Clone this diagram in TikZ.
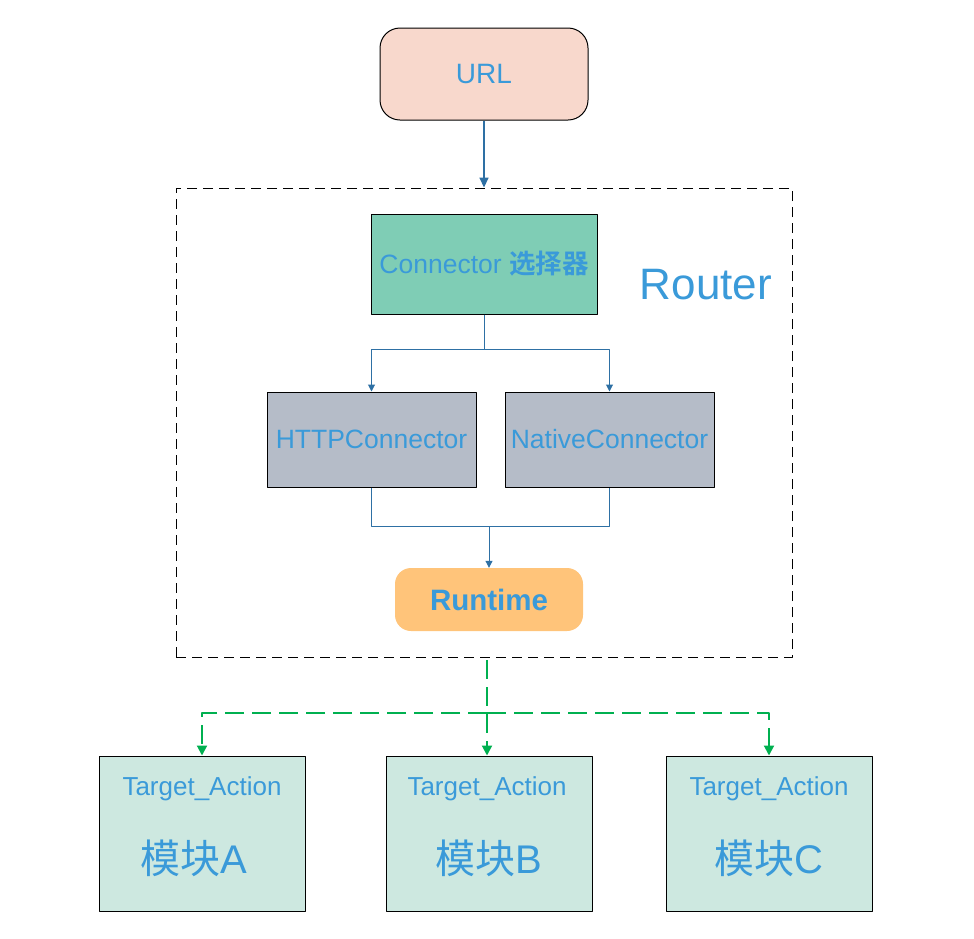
\documentclass[tikz,border=0pt]{standalone}
\usepackage{fontspec}
\setmainfont{Liberation Sans}
\newfontfamily\cjk{Noto Sans CJK SC}
\newfontfamily\cjkbold{Noto Sans CJK SC Bold}
\usetikzlibrary{arrows.meta}
\definecolor{txtblue}{RGB}{58,154,217}
\definecolor{linkblue}{RGB}{46,112,164}
\definecolor{urlfill}{RGB}{248,216,204}
\definecolor{selfill}{RGB}{127,205,181}
\definecolor{connfill}{RGB}{181,188,200}
\definecolor{runfill}{RGB}{255,196,122}
\definecolor{modfill}{RGB}{205,232,224}
\definecolor{modgreen}{RGB}{0,176,80}
\tikzset{
  box/.style={draw=black, line width=1pt, inner sep=0pt, text=txtblue},
  urlbox/.style={box, fill=urlfill, rounded corners=20pt, minimum width=208pt, minimum height=92pt, font=\fontsize{28}{32}\selectfont},
  selbox/.style={box, fill=selfill, minimum width=226pt, minimum height=100pt, font=\fontsize{26.5}{30}\selectfont},
  connbox/.style={box, fill=connfill, minimum width=209pt, minimum height=95pt, font=\fontsize{26.5}{30}\selectfont},
  runbox/.style={inner sep=0pt, fill=runfill, rounded corners=16pt, minimum width=188pt, minimum height=63pt, text=txtblue, font=\fontsize{29.5}{34}\selectfont\bfseries},
  modbox/.style={box, fill=modfill, minimum width=206pt, minimum height=155pt},
  modtext/.style={text=txtblue, font=\fontsize{26}{30}\selectfont},
  modname/.style={text=txtblue, font=\fontsize{40}{44}\selectfont},
  frame/.style={draw=black, line width=0.9pt, dash pattern=on 10pt off 6pt, minimum width=616pt, minimum height=469pt, inner sep=0pt},
  link/.style={draw=linkblue, line width=1pt},
  linktip/.style={link, -{Triangle[length=7pt,width=7pt]}},
  urllink/.style={draw=linkblue, line width=1.6pt, -{Triangle[length=10pt,width=9pt]}},
  greenlink/.style={draw=modgreen, line width=2pt, dash pattern=on 19pt off 8pt},
  greentip/.style={greenlink, -{Triangle[length=10pt,width=10pt]}}
}

\begin{document}
\begin{tikzpicture}[x=1pt, y=-1pt, line join=round]
\useasboundingbox (0,0) rectangle (974,938);

% top part
\node[urlbox] (url) at (484,74) {URL};
\node[frame] (router) at (484,422.5) {};
\node[text=txtblue, font=\fontsize{44}{48}\selectfont] (routerlbl) at (706,285) {Router};

% inside the router
\node[selbox] (sel) at (484,264) {Connector {\cjkbold 选择器}};
\node[connbox] (http) at (371.5,439.5) {HTTPConnector};
\node[connbox] (native) at (609.5,439.5) {NativeConnector};
\node[runbox] (run) at (489,599.5) {Runtime};

% modules
\node[modbox] (modA) at (202,833.5) {};
\node[modbox] (modB) at (489,833.5) {};
\node[modbox] (modC) at (769,833.5) {};
\node[modtext] (taA) at (202,789) {Target\_Action};
\node[modtext] (taB) at (487,789) {Target\_Action};
\node[modtext] (taC) at (769,789) {Target\_Action};
\node[modname] (nameA) at (194,858) {{\cjk 模块}A};
\node[modname] (nameB) at (489,858) {{\cjk 模块}B};
\node[modname] (nameC) at (769,858) {{\cjk 模块}C};

% connectors
\draw[urllink] (url.south) -- (router.north);
\draw[linktip] (sel.south) -- ++(0,35) -| (http.north);
\draw[linktip] (sel.south) -- ++(0,35) -| (native.north);
\draw[link] (http.south) -- ++(0,39) -| (native.south);
\coordinate (join) at (489,526);
\draw[linktip] (join) -- (run.north);

\coordinate (split) at (487,713);
\draw[greentip] (487,660) -- (split |- modB.north);
\draw[greentip] (split) -| (modA.north);
\draw[greentip] (split) -| (modC.north);

\end{tikzpicture}
\end{document}
